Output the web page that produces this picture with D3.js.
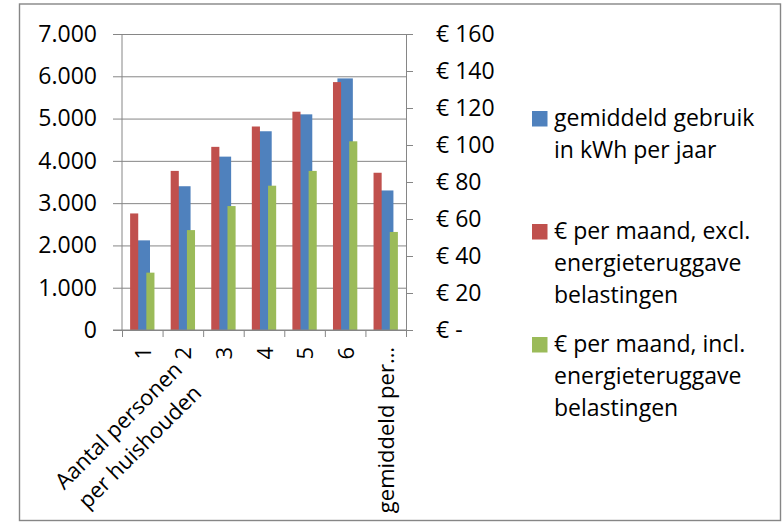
<!DOCTYPE html>
<html>
<head>
<meta charset="utf-8">
<script src="https://cdn.jsdelivr.net/npm/d3@7"></script>
<style>
  body { margin: 0; background: #fff; }
  text { font-family: "Open Sans", sans-serif; fill: #000; }
</style>
</head>
<body>
<div id="chart"></div>
<script>
// categories and values
var categories = ["1", "2", "3", "4", "5", "6", "gemiddeld per\u2026"];
var kwhPerYear = [2120, 3400, 4100, 4700, 5100, 5950, 3300];      // left axis
var euroExcl = [63, 86, 99, 110, 118, 134, 85];                   // right axis
var euroIncl = [31, 54, 67, 78, 86, 102, 53];                     // right axis

var leftTicks = [0, 1000, 2000, 3000, 4000, 5000, 6000, 7000];
var rightTicks = [0, 20, 40, 60, 80, 100, 120, 140, 160];

var seriesNames = [
  ["gemiddeld gebruik", "in kWh per jaar"],
  ["\u20ac per maand, excl.", "energieteruggave", "belastingen"],
  ["\u20ac per maand, incl.", "energieteruggave", "belastingen"]
];
var seriesColors = ["#4F81BD", "#C0504D", "#9BBB59"];

var w = 783, h = 522;
var plotLeft = 122, plotRight = 406, plotTop = 34, plotBottom = 330;
var grey = "#868686";
var fs = 23;      // tick labels, legend
var fsCat = 22;   // category labels, axis title

var svg = d3.select("#chart").append("svg")
  .attr("width", w)
  .attr("height", h);

// outer frame
svg.append("rect")
  .attr("x", 19.5).attr("y", 4)
  .attr("width", 761).attr("height", 516.5)
  .attr("fill", "none")
  .attr("stroke", grey)
  .attr("stroke-width", 1.4);

var x = d3.scaleBand()
  .domain(categories)
  .range([plotLeft, plotRight])
  .paddingInner(0).paddingOuter(0);

var xEdge = d3.scaleLinear()
  .domain([0, categories.length])
  .range([plotLeft, plotRight]);

var yL = d3.scaleLinear().domain([0, 7000]).range([plotBottom, plotTop]);
var yR = d3.scaleLinear().domain([0, 160]).range([plotBottom, plotTop]);

var nl = d3.formatLocale({ decimal: ",", thousands: ".", grouping: [3], currency: ["\u20ac", ""] });
var fmtL = nl.format(",");

// gridlines + left labels (one axis from the right edge, lines going left)
var gridAxis = svg.append("g")
  .attr("transform", "translate(" + plotRight + ",0)")
  .call(d3.axisLeft(yL)
    .tickValues(leftTicks)
    .tickSize(plotRight - 113)
    .tickPadding(16)
    .tickFormat(fmtL));
gridAxis.select(".domain").remove();
gridAxis.selectAll("line").attr("stroke", grey);
gridAxis.selectAll("text")
  .style("font-family", "Open Sans")
  .style("font-size", fs + "px")
  .attr("fill", "#000");

var bw = x.bandwidth();

// blue series (primary axis), drawn first
svg.append("g").selectAll("rect")
  .data(kwhPerYear)
  .enter().append("rect")
  .attr("x", function(d, i) { return x(categories[i]) + bw / 2 - bw * 0.19; })
  .attr("width", bw * 0.38)
  .attr("y", function(d) { return yL(d); })
  .attr("height", function(d) { return plotBottom - yL(d); })
  .attr("fill", seriesColors[0]);

// red and green (secondary axis) on top
var sw = bw * 0.2;
svg.append("g").selectAll("rect")
  .data(euroExcl)
  .enter().append("rect")
  .attr("x", function(d, i) { return x(categories[i]) + bw / 2 - 1.5 * sw; })
  .attr("width", sw)
  .attr("y", function(d) { return yR(d); })
  .attr("height", function(d) { return plotBottom - yR(d); })
  .attr("fill", seriesColors[1]);

svg.append("g").selectAll("rect")
  .data(euroIncl)
  .enter().append("rect")
  .attr("x", function(d, i) { return x(categories[i]) + bw / 2 + 0.5 * sw; })
  .attr("width", sw)
  .attr("y", function(d) { return yR(d); })
  .attr("height", function(d) { return plotBottom - yR(d); })
  .attr("fill", seriesColors[2]);

// left axis line
svg.append("line")
  .attr("x1", plotLeft).attr("x2", plotLeft)
  .attr("y1", plotTop).attr("y2", plotBottom)
  .attr("stroke", grey);

// x axis ticks at category boundaries
var xAxis = svg.append("g")
  .attr("transform", "translate(0," + plotBottom + ")")
  .call(d3.axisBottom(xEdge)
    .tickValues(d3.range(categories.length + 1))
    .tickSize(7)
    .tickFormat(""));
xAxis.select(".domain").remove();
xAxis.selectAll("line").attr("stroke", grey);
svg.append("line")
  .attr("x1", 113).attr("x2", plotRight)
  .attr("y1", plotBottom).attr("y2", plotBottom)
  .attr("stroke", grey);

// right axis
var rAxis = svg.append("g")
  .attr("transform", "translate(" + plotRight + ",0)")
  .call(d3.axisRight(yR)
    .tickValues(rightTicks)
    .tickSize(7)
    .tickSizeOuter(0)
    .tickPadding(23)
    .tickFormat(function(d) { return d === 0 ? "\u20ac -" : "\u20ac " + d; }));
rAxis.select(".domain").attr("stroke", grey);
rAxis.selectAll("line").attr("stroke", grey);
rAxis.selectAll("text")
  .style("font-family", "Open Sans")
  .style("font-size", fs + "px")
  .attr("fill", "#000");

// category labels, rotated
svg.append("g").selectAll("text")
  .data(categories)
  .enter().append("text")
  .attr("transform", function(d) {
    return "translate(" + (x(d) + bw / 2 + 8.5) + ",347) rotate(-90)";
  })
  .attr("text-anchor", "end")
  .style("font-size", fsCat + "px")
  .text(function(d) { return d; });

// axis title at 45 degrees
var title = svg.append("text")
  .attr("transform", "translate(129,436) rotate(-45)")
  .attr("text-anchor", "middle")
  .style("font-size", fsCat + "px");
title.append("tspan").attr("x", 0).attr("y", -15).attr("dy", "0.35em").text("Aantal personen");
title.append("tspan").attr("x", 0).attr("y", 15).attr("dy", "0.35em").text("per huishouden");

// legend
var legend = svg.append("g");
seriesNames.forEach(function(lines, i) {
  var y0 = 111 + i * 113;
  legend.append("rect")
    .attr("x", 532).attr("y", y0)
    .attr("width", 15.5).attr("height", 15.5)
    .attr("fill", seriesColors[i]);
  lines.forEach(function(t, j) {
    legend.append("text")
      .attr("x", 554)
      .attr("y", y0 + 15 + j * 32)
      .style("font-size", fs + "px")
      .text(t);
  });
});
</script>
</body>
</html>
